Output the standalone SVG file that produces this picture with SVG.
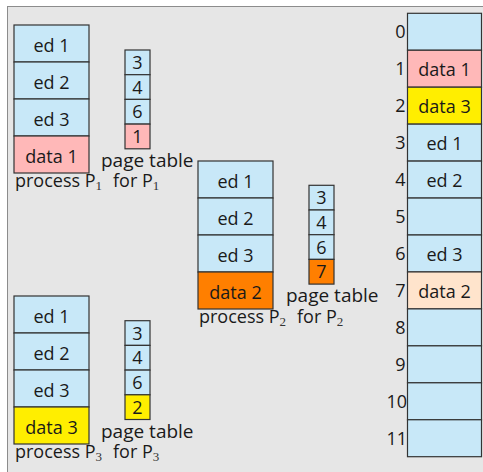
<svg xmlns="http://www.w3.org/2000/svg" width="483" height="472" viewBox="0 0 483 472">
<style>
.b{fill:#c8e8f8;stroke:#333;stroke-width:1.2}
.pk{fill:#ffb8b8;stroke:#333;stroke-width:1.2}
.ye{fill:#ffee00;stroke:#333;stroke-width:1.2}
.or{fill:#ff7f00;stroke:#333;stroke-width:1.2}
.pe{fill:#ffe4cc;stroke:#333;stroke-width:1.2}
text{font-family:"Open Sans","Noto Sans",sans-serif;font-size:18px;fill:#1a1a1a}
.c{text-anchor:middle}
.r{text-anchor:end}
.pt{font-size:19px}
.s{font-family:"Liberation Serif","DejaVu Serif",serif;font-size:13px;fill:#333}
</style>
<rect x="7.5" y="6.5" width="500" height="500" fill="#e6e6e6" stroke="#8c8c8c" stroke-width="1"/>

<g id="process1">
<rect class="b" x="14" y="25" width="75" height="37"/>
<rect class="b" x="14" y="62" width="75" height="37"/>
<rect class="b" x="14" y="99" width="75" height="37"/>
<rect class="pk" x="14" y="136" width="75" height="37"/>
<text class="c" x="51.5" y="52">ed 1</text>
<text class="c" x="51.5" y="89">ed 2</text>
<text class="c" x="51.5" y="126">ed 3</text>
<text class="c" x="51.5" y="163">data 1</text>
<text x="15" y="187">process P<tspan class="s" dy="3">1</tspan></text>
</g>
<g id="pagetable1">
<rect class="b" x="125" y="50" width="25" height="24.7"/>
<rect class="b" x="125" y="74.7" width="25" height="24.7"/>
<rect class="b" x="125" y="99.4" width="25" height="24.7"/>
<rect class="pk" x="125" y="124.1" width="25" height="24.7"/>
<text class="c" x="137.5" y="69">3</text>
<text class="c" x="137.5" y="93.7">4</text>
<text class="c" x="137.5" y="118.4">6</text>
<text class="c" x="137.5" y="143.1">1</text>
<text class="pt" x="101" y="166.5">page table</text>
<text x="113" y="187">for P<tspan class="s" dy="3">1</tspan></text>
</g>

<g id="process2">
<rect class="b" x="198" y="161" width="75" height="37"/>
<rect class="b" x="198" y="198" width="75" height="37"/>
<rect class="b" x="198" y="235" width="75" height="37"/>
<rect class="or" x="198" y="272" width="75" height="37"/>
<text class="c" x="235.5" y="188">ed 1</text>
<text class="c" x="235.5" y="225">ed 2</text>
<text class="c" x="235.5" y="262">ed 3</text>
<text class="c" x="235.5" y="299">data 2</text>
<text x="199" y="323">process P<tspan class="s" dy="3">2</tspan></text>
</g>
<g id="pagetable2">
<rect class="b" x="309" y="185.3" width="25" height="24.7"/>
<rect class="b" x="309" y="210" width="25" height="24.7"/>
<rect class="b" x="309" y="234.7" width="25" height="24.7"/>
<rect class="or" x="309" y="259.4" width="25" height="24.7"/>
<text class="c" x="321.5" y="204.3">3</text>
<text class="c" x="321.5" y="229">4</text>
<text class="c" x="321.5" y="253.7">6</text>
<text class="c" x="321.5" y="278.4">7</text>
<text class="pt" x="286" y="302">page table</text>
<text x="297" y="323">for P<tspan class="s" dy="3">2</tspan></text>
</g>

<g id="process3">
<rect class="b" x="14" y="296" width="75" height="37"/>
<rect class="b" x="14" y="333" width="75" height="37"/>
<rect class="b" x="14" y="370" width="75" height="37"/>
<rect class="ye" x="14" y="407" width="75" height="37"/>
<text class="c" x="51.5" y="323">ed 1</text>
<text class="c" x="51.5" y="360">ed 2</text>
<text class="c" x="51.5" y="397">ed 3</text>
<text class="c" x="51.5" y="434">data 3</text>
<text x="15" y="458">process P<tspan class="s" dy="3">3</tspan></text>
</g>
<g id="pagetable3">
<rect class="b" x="125" y="320.7" width="25" height="24.7"/>
<rect class="b" x="125" y="345.4" width="25" height="24.7"/>
<rect class="b" x="125" y="370.1" width="25" height="24.7"/>
<rect class="ye" x="125" y="394.8" width="25" height="24.7"/>
<text class="c" x="137.5" y="339.7">3</text>
<text class="c" x="137.5" y="364.4">4</text>
<text class="c" x="137.5" y="389.1">6</text>
<text class="c" x="137.5" y="413.8">2</text>
<text class="pt" x="101" y="437.5">page table</text>
<text x="113" y="458">for P<tspan class="s" dy="3">3</tspan></text>
</g>

<g id="memory">
<rect class="b" x="407.5" y="13.3" width="74" height="36.95"/>
<rect class="pk" x="407.5" y="50.25" width="74" height="36.95"/>
<rect class="ye" x="407.5" y="87.2" width="74" height="36.95"/>
<rect class="b" x="407.5" y="124.15" width="74" height="36.95"/>
<rect class="b" x="407.5" y="161.1" width="74" height="36.95"/>
<rect class="b" x="407.5" y="198.05" width="74" height="36.95"/>
<rect class="b" x="407.5" y="235" width="74" height="36.95"/>
<rect class="pe" x="407.5" y="271.95" width="74" height="36.95"/>
<rect class="b" x="407.5" y="308.9" width="74" height="36.95"/>
<rect class="b" x="407.5" y="345.85" width="74" height="36.95"/>
<rect class="b" x="407.5" y="382.8" width="74" height="36.95"/>
<rect class="b" x="407.5" y="419.75" width="74" height="36.95"/>
<text class="c" x="444.5" y="76">data 1</text>
<text class="c" x="444.5" y="113">data 3</text>
<text class="c" x="444.5" y="150">ed 1</text>
<text class="c" x="444.5" y="187">ed 2</text>
<text class="c" x="444.5" y="261">ed 3</text>
<text class="c" x="444.5" y="298">data 2</text>
<text class="r" x="405.5" y="38.3">0</text>
<text class="r" x="405.5" y="75.3">1</text>
<text class="r" x="405.5" y="112.2">2</text>
<text class="r" x="405.5" y="149.2">3</text>
<text class="r" x="405.5" y="186.1">4</text>
<text class="r" x="405.5" y="223.1">5</text>
<text class="r" x="405.5" y="260">6</text>
<text class="r" x="405.5" y="297">7</text>
<text class="r" x="405.5" y="333.9">8</text>
<text class="r" x="405.5" y="370.9">9</text>
<text class="r" x="407" y="407.8">10</text>
<text class="r" x="407" y="444.8">11</text>
</g>
</svg>
